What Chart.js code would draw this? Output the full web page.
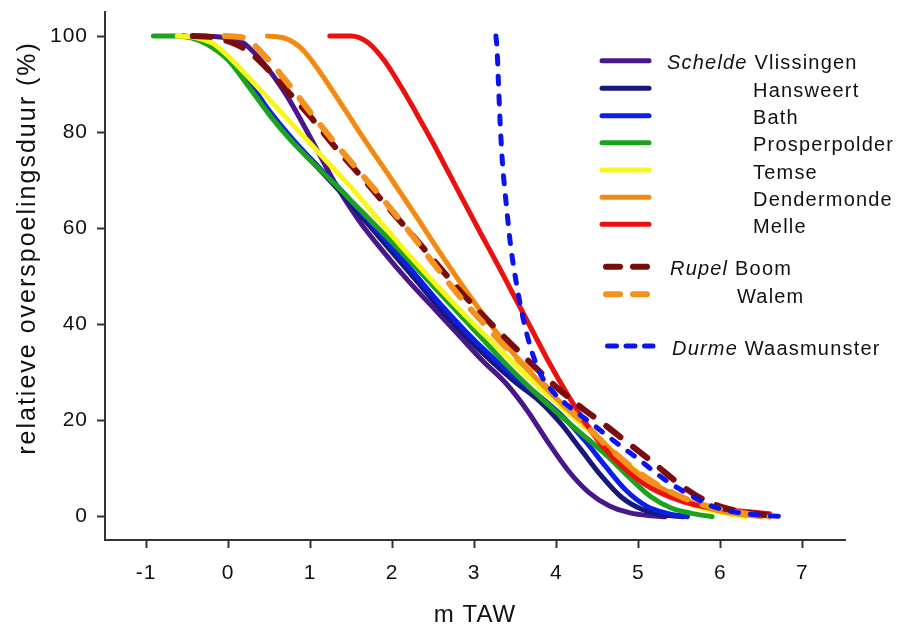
<!DOCTYPE html>
<html><head><meta charset="utf-8">
<script src="https://cdn.jsdelivr.net/npm/chart.js@4.4.1/dist/chart.umd.min.js"></script>
<style>
html,body{margin:0;padding:0;background:#fff;}
#wrap{position:relative;width:915px;height:627px;overflow:hidden;font-family:"Liberation Sans",Arial,sans-serif;color:#111;}
#c{position:absolute;left:0;top:0;}
#ytitle{position:absolute;left:26px;top:248px;transform:translate(-50%,-50%) rotate(-90deg);white-space:nowrap;font-size:25px;letter-spacing:2px;line-height:1;}
.lg{position:absolute;font-size:20px;letter-spacing:1.2px;white-space:nowrap;line-height:1;}
#lgsvg{position:absolute;left:0;top:0;pointer-events:none;}
</style></head>
<body><div id="wrap"><canvas id="c" width="915" height="627"></canvas><div id="ytitle"></div><svg id="lgsvg" width="915" height="627"></svg></div>
<script>
// ---- data ----
const seriesNames = ['Vlissingen','Hansweert','Bath','Prosperpolder','Temse','Dendermonde','Melle','Boom','Walem','Waasmunster'];
const riverNames  = ['Schelde','','','','','','','Rupel','','Durme'];
const xTitle = 'm TAW';
const yTitle = 'relatieve overspoelingsduur (%)';
const xTicks = [-1,0,1,2,3,4,5,6,7];
const yTicks = [0,20,40,60,80,100];

const vlissingen = [[-0.4,100],[-0.1,99.8],[0.15,99],[0.4,95],[0.7,88],[1.0,79],[1.3,69.5],[1.6,61.5],[1.9,55],[2.2,49],[2.5,43.5],[2.8,38],[3.1,32.5],[3.4,27.5],[3.65,22],[3.9,15.5],[4.15,9.5],[4.4,5],[4.65,2.2],[4.9,0.8],[5.15,0.2],[5.33,0]];
const hansweert = [[-0.55,100],[-0.3,99.3],[-0.05,96.5],[0.2,91.5],[0.5,84],[0.8,78],[1.1,72.5],[1.4,67],[1.7,61],[2.0,55],[2.3,49],[2.6,43],[2.9,37.5],[3.2,32.5],[3.5,28],[3.8,24],[4.05,19.5],[4.3,14],[4.55,8.5],[4.8,4],[5.05,1.5],[5.3,0.4],[5.55,0]];
const bath = [[-0.55,100],[-0.35,99.5],[-0.1,97],[0.2,91.8],[0.5,84.5],[0.8,78.3],[1.1,72.8],[1.4,67.5],[1.7,61.8],[2.0,56],[2.3,50],[2.6,44],[2.9,38.5],[3.2,33.5],[3.5,29],[3.8,25],[4.1,20.5],[4.35,15.8],[4.6,10.5],[4.85,5.5],[5.1,2.2],[5.35,0.7],[5.6,0]];
const prosperpolder = [[-0.91,100],[-0.65,100],[-0.45,99.6],[-0.25,98.2],[0,95],[0.25,89.5],[0.5,83.7],[0.75,78.6],[1.0,74.2],[1.3,69.2],[1.6,64],[1.9,58.8],[2.2,53.5],[2.5,48],[2.8,42.5],[3.1,37],[3.4,31.5],[3.7,26.5],[4.0,21.8],[4.3,17.4],[4.6,13],[4.9,8],[5.15,4.2],[5.4,1.8],[5.65,0.7],[5.9,0]];
const temse = [[-0.62,100],[-0.4,99.7],[-0.18,98.4],[0.02,95.5],[0.3,90.5],[0.6,85],[0.9,79.5],[1.2,74],[1.5,68.5],[1.8,62.5],[2.1,56.5],[2.4,50.8],[2.7,45.3],[3.0,40],[3.3,35],[3.6,30],[3.9,25.3],[4.2,20.8],[4.5,16.5],[4.8,12],[5.1,7.8],[5.4,4.5],[5.7,2.2],[6.0,0.9],[6.3,0]];
const dendermonde = [[0.48,100],[0.7,99.5],[0.9,97.3],[1.1,93],[1.4,85.3],[1.7,77.5],[2.0,70],[2.3,62.3],[2.6,54.5],[2.9,47],[3.2,40],[3.5,33.5],[3.8,28],[4.1,23],[4.4,18.5],[4.7,13.3],[5.0,9],[5.3,5.8],[5.6,3.3],[5.9,1.6],[6.2,0.6],[6.5,0]];
const melle = [[1.24,100],[1.5,100],[1.7,98.7],[1.9,95],[2.1,89.7],[2.3,83.8],[2.5,77.7],[2.7,71.2],[2.9,64.7],[3.1,58.3],[3.3,52],[3.5,45.5],[3.7,39],[3.9,32.5],[4.1,26.5],[4.3,21],[4.55,15],[4.8,10.5],[5.1,6.5],[5.4,4],[5.7,2.4],[6.0,1.6],[6.3,1.1],[6.6,0.6]];
const boom = [[-0.43,100],[-0.2,99.8],[0.02,98.8],[0.25,96.8],[0.45,93.7],[0.7,89],[1.0,83.3],[1.3,77],[1.6,71.2],[1.9,65.3],[2.2,59.5],[2.5,53.5],[2.8,47.5],[3.1,42],[3.4,36.8],[3.7,31.8],[4.0,27],[4.3,22.8],[4.6,19],[4.9,15],[5.2,11],[5.5,6.8],[5.8,3.5],[6.1,1.6],[6.4,0.7],[6.73,0]];
const walem = [[-0.04,100],[0.2,99.6],[0.45,95.8],[0.7,90.8],[1.0,84.2],[1.3,77.8],[1.6,71.8],[1.9,65.8],[2.2,59.5],[2.5,52.8],[2.8,46.3],[3.1,40.5],[3.4,35],[3.7,30],[4.0,25],[4.3,20],[4.6,15],[4.9,10.6],[5.2,7],[5.5,4.3],[5.8,2.4],[6.1,1.2],[6.4,0.4],[6.6,0]];
const waasmunster = [[3.265,100],[3.28,97],[3.296,90.2],[3.317,81.8],[3.345,73.5],[3.39,65.2],[3.44,57],[3.51,49],[3.6,41],[3.7,34.5],[3.82,29.3],[3.97,25.8],[4.15,23],[4.4,19.8],[4.7,15.8],[5.0,12],[5.3,8],[5.6,4.8],[5.9,2.2],[6.2,0.9],[6.5,0.3],[6.8,0]];

const seriesData = [vlissingen,hansweert,bath,prosperpolder,temse,dendermonde,melle,boom,walem,waasmunster];

// ---- styles ----
const colors = ['#4a168c','#16187a','#0d1fe6','#1ba31b','#f7f71c','#f28a0f','#ec1111','#7b0c0c','#f5921e','#0a14f0'];
const dashes = [[],[],[],[],[],[],[],[18,16],[18,16],[8,12]];
const widths = [5,5,5,5,5,5,5,6,6,5];
const FONT = '"Liberation Sans", Arial, sans-serif';

const datasets = seriesData.map((arr,i)=>({
  label: seriesNames[i],
  data: arr.map(([x,y])=>({x,y})),
  borderColor: colors[i],
  backgroundColor: colors[i],
  borderWidth: widths[i],
  borderDash: dashes[i],
  borderCapStyle: 'round',
  borderJoinStyle: 'round',
  pointRadius: 0,
  fill: false,
  cubicInterpolationMode: 'monotone',
  order: seriesData.length - i
}));

const spacing = {id:'spacing',
  beforeLayout(c){c.ctx.letterSpacing='1px';},
  beforeDraw(c){c.ctx.letterSpacing='1px';}};

new Chart(document.getElementById('c'), {
  type: 'line',
  data: {datasets},
  plugins: [spacing],
  options: {
    responsive: false, animation: false, devicePixelRatio: 1,
    layout: {padding: {left: 0, right: 70, top: 12, bottom: 0}},
    plugins: {legend: {display: false}, tooltip: {enabled: false}},
    scales: {
      x: {
        type: 'linear', position: 'bottom', min: -1.5, max: 7.52,
        afterBuildTicks: s => { s.ticks = xTicks.map(v => ({value: v})); },
        afterFit: s => { s.height = 87; s.paddingLeft = 0; s.paddingRight = 0; },
        grid: {drawOnChartArea: false, drawTicks: true, tickLength: 8, tickColor: '#333', tickWidth: 2},
        border: {display: true, color: '#333', width: 2},
        ticks: {font: {family: FONT, size: 21}, color: '#111', padding: 13, maxRotation: 0, callback: v => String(v)},
        title: {display: true, text: xTitle, font: {family: FONT, size: 24, lineHeight: 1}, color: '#111', padding: {top: 0, bottom: 0}}
      },
      y: {
        type: 'linear', position: 'left', min: -4.85, max: 105,
        afterBuildTicks: s => { s.ticks = yTicks.map(v => ({value: v})); },
        afterFit: s => { s.width = 105; s.paddingTop = 0; s.paddingBottom = 0; },
        grid: {drawOnChartArea: false, drawTicks: true, tickLength: 8, tickColor: '#333', tickWidth: 2},
        border: {display: true, color: '#333', width: 2},
        ticks: {font: {family: FONT, size: 21}, color: '#111', padding: 9, callback: v => String(v)},
        title: {display: false}
      }
    }
  }
});

document.getElementById('ytitle').textContent = yTitle;

// ---- legend (HTML text + SVG samples) ----
const legendRowY  = [60.7, 88.3, 115.7, 142.7, 170, 197.3, 224.3, 266.7, 294.3, 346];
const legendTextX = [667, 753, 753, 753, 753, 753, 753, 670, 737, 672];
const legendLine  = [[602,649],[602,649],[602,649],[602,649],[602,649],[602,649],[602,649],[606,647],[606,647],[607.5,653]];
const legendDash  = ['','','','','','','','14 13','14 13','9 9.5'];
const svg = document.getElementById('lgsvg');
const wrap = document.getElementById('wrap');
const NS = 'http://www.w3.org/2000/svg';
seriesNames.forEach((name,i)=>{
  const ln = document.createElementNS(NS,'line');
  ln.setAttribute('x1', legendLine[i][0]); ln.setAttribute('x2', legendLine[i][1]);
  ln.setAttribute('y1', legendRowY[i]); ln.setAttribute('y2', legendRowY[i]);
  ln.setAttribute('stroke', colors[i]); ln.setAttribute('stroke-width', widths[i]);
  ln.setAttribute('stroke-linecap','round');
  if (legendDash[i]) ln.setAttribute('stroke-dasharray', legendDash[i]);
  svg.appendChild(ln);
  const d = document.createElement('div');
  d.className = 'lg';
  d.style.left = legendTextX[i] + 'px';
  d.style.top = (legendRowY[i] - 8.5) + 'px';
  if (riverNames[i]) {
    const it = document.createElement('i'); it.textContent = riverNames[i];
    d.appendChild(it); d.appendChild(document.createTextNode(' ' + name));
  } else d.textContent = name;
  wrap.appendChild(d);
});
</script></body></html>
